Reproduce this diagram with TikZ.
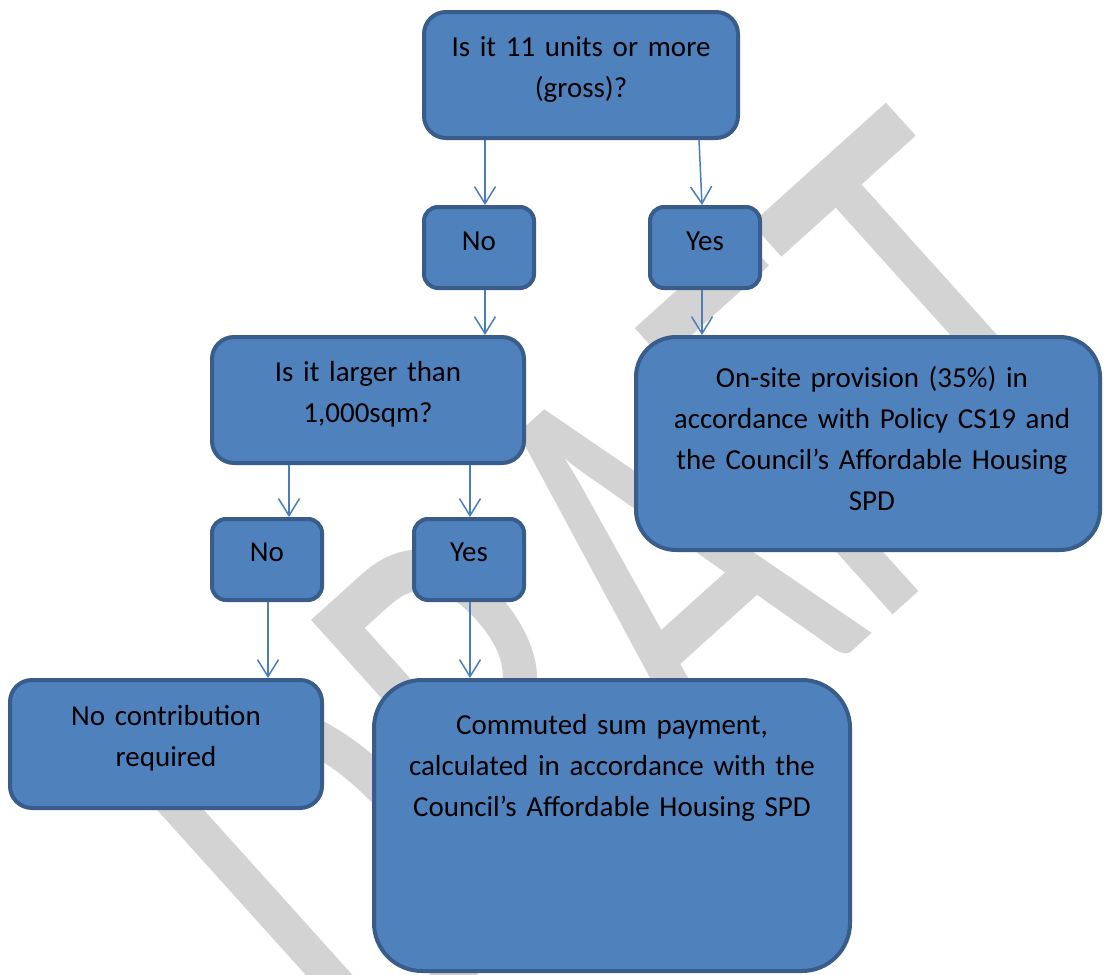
\documentclass[tikz,border=0pt]{standalone}
\usepackage{fontspec}
\setmainfont{Carlito}
\usetikzlibrary{arrows.meta}
\definecolor{boxfill}{HTML}{4F81BD}
\definecolor{boxline}{HTML}{385D8A}
\definecolor{arrcol}{HTML}{4A7EBB}
\definecolor{wmgray}{HTML}{D3D3D3}
\begin{document}
\begin{tikzpicture}[x=1pt,y=-1pt,
  box/.style={draw=boxline, fill=boxfill, line width=4pt, rounded corners=#1, inner sep=0pt},
  box/.default=22pt,
  lbl/.style={font=\fontsize{29}{41}\selectfont, text width=480pt, align=center, anchor=base, inner sep=0pt},
  arr/.style={draw=arrcol, line width=1.5pt, -{Straight Barb[length=17pt,width=21pt]}}
]
\clip (0,0) rectangle (1104,975);
\fill[white] (0,0) rectangle (1104,975);
% watermark
\begin{scope}[shift={(759,736)}]
\node[rotate=42, yscale=1.54, anchor=base, inner sep=0pt, text=wmgray, font=\fontsize{390}{390}\selectfont] (wm) at (0,0) {DRAFT};
\end{scope}
% boxes
\node[box, minimum width=314pt, minimum height=126pt] (top) at (581,75) {};
\node[box=14pt, minimum width=110pt, minimum height=81pt] (no1) at (479,247.5) {};
\node[box=14pt, minimum width=110pt, minimum height=81pt] (yes1) at (705,247.5) {};
\node[box, minimum width=312pt, minimum height=126pt] (larger) at (368,400) {};
\node[box=40pt, minimum width=464pt, minimum height=213pt] (onsite) at (868,443.5) {};
\node[box=14pt, minimum width=110pt, minimum height=81pt] (no2) at (267,559.5) {};
\node[box=14pt, minimum width=110pt, minimum height=81pt] (yes2) at (469,559.5) {};
\node[box, minimum width=312pt, minimum height=128pt] (nocon) at (166,744) {};
\node[box=48pt, minimum width=476pt, minimum height=291pt] (comm) at (612,825.5) {};
% connectors
\draw[arr] ([xshift=6pt]no1.north |- top.south) -- ([xshift=6pt]no1.north);
\draw[arr] ([xshift=-6pt]yes1.north |- top.south) -- ([xshift=-3pt]yes1.north);
\draw[arr] ([xshift=6pt]no1.south) -- ([xshift=6pt]no1.south |- larger.north);
\draw[arr] ([xshift=-3pt]yes1.south) -- ([xshift=-3pt]yes1.south |- onsite.north);
\draw[arr] ([xshift=22pt]no2.north |- larger.south) -- ([xshift=22pt]no2.north);
\draw[arr] ([xshift=1pt]yes2.north |- larger.south) -- ([xshift=1pt]yes2.north);
\draw[arr] ([xshift=1pt]no2.south) -- ([xshift=1pt]no2.south |- nocon.north);
\draw[arr] ([xshift=1pt]yes2.south) -- ([xshift=1pt]yes2.south |- comm.north);
% texts
\node[lbl] (ttop) at (581,56) {Is it 11 units or more\\(gross)?};
\node[lbl] (tno1) at (479,250) {No};
\node[lbl] (tyes1) at (705,250) {Yes};
\node[lbl] (tlarger) at (368,381) {Is it larger than\\1,000sqm?};
\node[lbl] (tonsite) at (872,387) {On-site provision (35\%) in\\accordance with Policy CS19 and\\the Council’s Affordable Housing\\SPD};
\node[lbl] (tno2) at (267,561) {No};
\node[lbl] (tyes2) at (469,561) {Yes};
\node[lbl] (tnocon) at (166,725) {No contribution\\required};
\node[lbl] (tcomm) at (612,734) {Commuted sum payment,\\calculated in accordance with the\\Council’s Affordable Housing SPD};
\end{tikzpicture}
\end{document}
